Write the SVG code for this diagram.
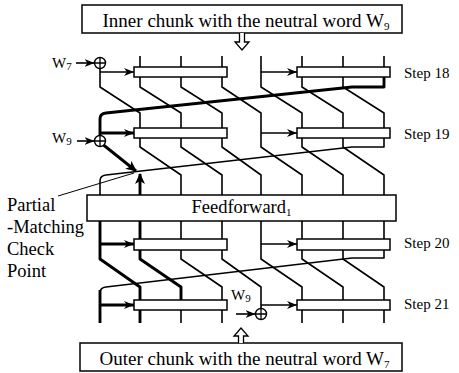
<svg xmlns="http://www.w3.org/2000/svg" width="459" height="373" viewBox="0 0 459 373">
  <style>
    .ln { fill: none; stroke: #000; stroke-width: 1.6; stroke-linejoin: round; }
    .bold { stroke-width: 2.9; }
    .box { fill: #fff; stroke: #000; stroke-width: 1.5; }
    .hollow { fill: #fff; stroke: #000; stroke-width: 1.3; stroke-linejoin: miter; }
    .xor circle { fill: #fff; stroke: #000; stroke-width: 1.4; }
    .xor path { stroke: #000; stroke-width: 1.3; }
    text { fill: #000; }
    .big { font-size: 19px; }
    .mid { font-size: 18.5px; }
    .step { font-size: 15px; }
    .w { font-size: 15px; }
    .sub { font-size: 11px; }
  </style>
  <defs>
    <marker id="arr" markerUnits="userSpaceOnUse" markerWidth="10" markerHeight="8" refX="10" refY="4" orient="auto">
      <path d="M0,0 L10,4 L0,8 L3,4 z" fill="#000"/>
    </marker>
    <marker id="arrBig" markerUnits="userSpaceOnUse" markerWidth="11" markerHeight="10" refX="10" refY="5" orient="auto">
      <path d="M0,0 L11,5 L0,10 L3,5 z" fill="#000"/>
    </marker>
  </defs>

  <!-- connectors -->
  <g id="connectors">
    <!-- step 18 -->
    <path class="ln" d="M140,56V67 M181,56V67 M222,56V67 M302,56V67 M343,56V67 M384,56V67"/>
    <path class="ln" d="M76,63 H94.5" marker-end="url(#arr)"/>
    <path class="ln" d="M100,68.5 V87 L140,113 V128"/>
    <path class="ln" d="M100,72 H134" marker-end="url(#arr)"/>
    <path class="ln" d="M140,77 V87 L181,113 V128"/>
    <path class="ln" d="M181,77 V87 L222,113 V128"/>
    <path class="ln" d="M222,77 V87 L261,113 V147 L302,175 V195"/>
    <path class="ln" d="M261,56 V87 L302,113 V128"/>
    <path class="ln" d="M261,72 H297" marker-end="url(#arr)"/>
    <path class="ln" d="M302,77 V87 L343,113 V128"/>
    <path class="ln" d="M343,77 V87 L384,113 V128"/>
    <path class="ln bold" d="M384,77 V87 H352 L106,113 Q100,113.6 100,119 V135.5"/>

    <!-- step 19 -->
    <path class="ln bold" d="M100,133 H134" marker-end="url(#arr)"/>
    <path class="ln" d="M261,133 H297" marker-end="url(#arr)"/>
    <path class="ln" d="M77,141 H94.5" marker-end="url(#arr)"/>
    <path class="ln bold" d="M103.5,145 L136,171" marker-end="url(#arrBig)"/>
    <path class="ln" d="M140,138 V147 L181,175 V195"/>
    <path class="ln" d="M181,138 V147 L222,175 V195"/>
    <path class="ln" d="M222,138 V147 L261,175 V195"/>
    <path class="ln" d="M302,138 V147 L343,175 V195"/>
    <path class="ln" d="M343,138 V147 L384,175 V195"/>
    <path class="ln" d="M384,138 V147 H352 L106,175 Q100,175.6 100,181 V195"/>
    <path class="ln bold" d="M140,195 V174" marker-end="url(#arrBig)"/>
    <path class="ln" d="M58,196 L134,173" style="stroke-width:1"/>

    <!-- step 20 -->
    <path class="ln bold" d="M100,221 V259 L140,287 V300"/>
    <path class="ln bold" d="M100,244 H134" marker-end="url(#arr)"/>
    <path class="ln bold" d="M140,221 V239 M140,250 V259 L181,287 V300"/>
    <path class="ln" d="M181,221 V239 M181,250 V259 L222,287 V300"/>
    <path class="ln" d="M222,221 V239 M222,250 V259 L261,287 V308.5"/>
    <path class="ln" d="M261,221 V259 L302,287 V300"/>
    <path class="ln" d="M261,244 H297" marker-end="url(#arr)"/>
    <path class="ln" d="M302,221 V239 M302,250 V259 L343,287 V300"/>
    <path class="ln" d="M343,221 V239 M343,250 V259 L384,287 V300"/>
    <path class="ln" d="M384,221 V239 M384,250 V258 H352 L106,287 Q100,287.6 100,293"/>

    <!-- step 21 -->
    <path class="ln bold" d="M100,290 V323"/>
    <path class="ln bold" d="M100,305 H134" marker-end="url(#arr)"/>
    <path class="ln" d="M261,305 H297" marker-end="url(#arr)"/>
    <path class="ln" d="M236,314 H255.5" marker-end="url(#arr)"/>
    <path class="ln bold" d="M140,310 V323"/>
    <path class="ln" d="M181,310 V323 M222,310 V323 M302,310 V323 M343,310 V323 M384,310 V323"/>
  </g>

  <g font-family="'Liberation Serif', 'Times New Roman', Times, 'DejaVu Serif', serif">
  <!-- message chunks -->
  <g id="inner-chunk">
    <rect class="box" x="82" y="5" width="320" height="28"/>
    <text class="big" x="246" y="27" text-anchor="middle">Inner chunk with the neutral word W<tspan class="sub" dy="3">9</tspan></text>
    <path class="hollow" d="M239.5,33 V42 H235 L242,50 L249,42 H244.5 V33"/>
  </g>
  <g id="outer-chunk">
    <rect class="box" x="80" y="343" width="322" height="28"/>
    <text class="big" x="244.5" y="365" text-anchor="middle">Outer chunk with the neutral word W<tspan class="sub" dy="3">7</tspan></text>
    <path class="hollow" d="M238.5,343 V336 H234 L241,328 L248,336 H243.5 V343"/>
  </g>

  <!-- step function boxes -->
  <g id="step18-left"><rect class="box" x="134" y="67" width="93" height="10"/></g>
  <g id="step18-right"><rect class="box" x="297" y="67" width="93" height="10"/></g>
  <g id="step19-left"><rect class="box" x="134" y="128" width="93" height="10"/></g>
  <g id="step19-right"><rect class="box" x="297" y="128" width="93" height="10"/></g>
  <g id="step20-left"><rect class="box" x="134" y="239" width="93" height="11"/></g>
  <g id="step20-right"><rect class="box" x="297" y="239" width="93" height="11"/></g>
  <g id="step21-left"><rect class="box" x="134" y="300" width="93" height="10"/></g>
  <g id="step21-right"><rect class="box" x="297" y="300" width="93" height="10"/></g>

  <g id="feedforward">
    <rect class="box" x="87" y="195" width="309" height="26"/>
    <text class="mid" x="241.5" y="213" text-anchor="middle">Feedforward<tspan class="sub" dy="3">1</tspan></text>
  </g>

  <!-- message word XORs -->
  <g id="xor-w7" class="xor">
    <text class="w" x="52" y="68">W<tspan class="sub" dy="2">7</tspan></text>
    <circle cx="100" cy="63" r="5.5"/>
    <path d="M94.5,63 H105.5 M100,57.5 V68.5"/>
  </g>
  <g id="xor-w9-inner" class="xor">
    <text class="w" x="52" y="143">W<tspan class="sub" dy="2">9</tspan></text>
    <circle cx="100" cy="141" r="5.5"/>
    <path d="M94.5,141 H105.5 M100,135.5 V146.5"/>
  </g>
  <g id="xor-w9-outer" class="xor">
    <text class="w" x="231" y="300">W<tspan class="sub" dy="2">9</tspan></text>
    <circle cx="261" cy="314" r="5.5"/>
    <path d="M255.5,314 H266.5 M261,308.5 V319.5"/>
  </g>

  <!-- step labels -->
  <g id="step-labels">
    <text class="step" x="404" y="78">Step 18</text>
    <text class="step" x="404" y="139">Step 19</text>
    <text class="step" x="404" y="248">Step 20</text>
    <text class="step" x="404" y="309">Step 21</text>
  </g>

  <g id="check-point-label">
    <text class="mid" x="7" y="211">Partial</text>
    <text class="mid" x="7" y="233">-Matching</text>
    <text class="mid" x="7" y="255">Check</text>
    <text class="mid" x="7" y="277">Point</text>
  </g>
  </g>
</svg>
